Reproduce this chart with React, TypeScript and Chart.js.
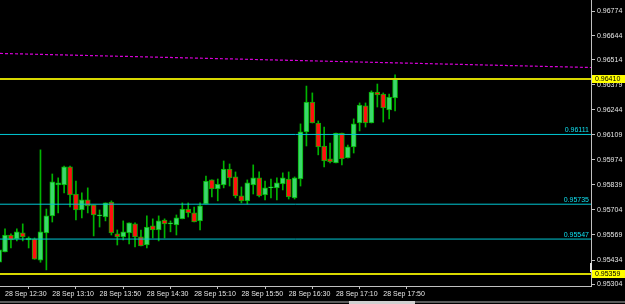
import React, { useEffect, useRef } from 'react';
import { Chart, registerables } from 'chart.js';

Chart.register(...registerables);

// ---- data ----
const timeLabels = [
  '28 Sep 12:30', '28 Sep 13:10', '28 Sep 13:50', '28 Sep 14:30', '28 Sep 15:10',
  '28 Sep 15:50', '28 Sep 16:30', '28 Sep 17:10', '28 Sep 17:50',
];
const timeTickBars = [1, 9, 17, 25, 33, 41, 49, 57, 65];
const priceTicks = [
  0.96774, 0.96644, 0.96514, 0.96379, 0.96244, 0.96109,
  0.95974, 0.95839, 0.95704, 0.95569, 0.95434, 0.95304,
];

const opens = [
  0.95422, 0.95478, 0.95569, 0.95548, 0.95580, 0.95542, 0.95548, 0.95433, 0.95580, 0.95672,
  0.95839, 0.95839, 0.95936, 0.95790, 0.95704, 0.95758, 0.95731, 0.95672, 0.95666, 0.95747,
  0.95575, 0.95559, 0.95580, 0.95629, 0.95559, 0.95515, 0.95618, 0.95596, 0.95650, 0.95629,
  0.95623, 0.95656, 0.95709, 0.95688, 0.95645, 0.95736, 0.95866, 0.95817, 0.95839, 0.95925,
  0.95882, 0.95780, 0.95753, 0.95839, 0.95877, 0.95785, 0.95823, 0.95823, 0.95844, 0.95871,
  0.95769, 0.95871, 0.96125, 0.96286, 0.96173, 0.96049, 0.95979, 0.95957, 0.96119, 0.95984,
  0.96044, 0.96173, 0.96265, 0.96173, 0.96340, 0.96329, 0.96243, 0.96308,
];
const highs = [
  0.95499, 0.95602, 0.95575, 0.95602, 0.95629, 0.95559, 0.95553, 0.96028, 0.95709, 0.95898,
  0.95877, 0.95941, 0.95941, 0.95860, 0.95796, 0.95823, 0.95731, 0.95704, 0.95742, 0.95753,
  0.95596, 0.95645, 0.95634, 0.95634, 0.95596, 0.95672, 0.95656, 0.95672, 0.95656, 0.95645,
  0.95677, 0.95742, 0.95742, 0.95720, 0.95742, 0.95887, 0.95866, 0.95871, 0.95968, 0.95952,
  0.95909, 0.95828, 0.95866, 0.95947, 0.95909, 0.95860, 0.95871, 0.95877, 0.95904, 0.95909,
  0.95882, 0.96168, 0.96372, 0.96335, 0.96184, 0.96151, 0.96065, 0.96119, 0.96119, 0.96054,
  0.96195, 0.96281, 0.96281, 0.96346, 0.96383, 0.96335, 0.96329, 0.96432,
];
const lows = [
  0.95411, 0.95478, 0.95499, 0.95537, 0.95537, 0.95499, 0.95438, 0.95422, 0.95381, 0.95639,
  0.95688, 0.95796, 0.95720, 0.95650, 0.95661, 0.95688, 0.95564, 0.95612, 0.95645, 0.95569,
  0.95515, 0.95542, 0.95521, 0.95505, 0.95510, 0.95499, 0.95553, 0.95537, 0.95553, 0.95586,
  0.95569, 0.95656, 0.95666, 0.95639, 0.95596, 0.95736, 0.95774, 0.95753, 0.95823, 0.95833,
  0.95769, 0.95742, 0.95736, 0.95790, 0.95774, 0.95758, 0.95769, 0.95758, 0.95812, 0.95763,
  0.95763, 0.95833, 0.96049, 0.96173, 0.96001, 0.95936, 0.95957, 0.95957, 0.95947, 0.95984,
  0.96011, 0.96130, 0.96151, 0.96173, 0.96259, 0.96178, 0.96195, 0.96238,
];
const closes = [
  0.95489, 0.95569, 0.95542, 0.95586, 0.95559, 0.95553, 0.95438, 0.95586, 0.95672, 0.95855,
  0.95850, 0.95936, 0.95785, 0.95704, 0.95758, 0.95726, 0.95677, 0.95677, 0.95742, 0.95580,
  0.95559, 0.95586, 0.95634, 0.95559, 0.95510, 0.95612, 0.95596, 0.95645, 0.95629, 0.95633,
  0.95661, 0.95709, 0.95688, 0.95639, 0.95726, 0.95860, 0.95817, 0.95844, 0.95925, 0.95877,
  0.95780, 0.95753, 0.95850, 0.95877, 0.95780, 0.95823, 0.95826, 0.95850, 0.95877, 0.95774,
  0.95877, 0.96125, 0.96286, 0.96173, 0.96044, 0.95968, 0.95963, 0.96119, 0.95979, 0.96044,
  0.96168, 0.96270, 0.96173, 0.96340, 0.96324, 0.96254, 0.96313, 0.96410,
];

const bidLevel = 0.96410;
const lowLevel = 0.95359;
const cyanLevels = [0.96111, 0.95735, 0.95547];
const trendStart = 0.96548;
const trendEnd = 0.96472;

// ---- styles ----
const BULL = '#3bd86c';
const BEAR = '#ff1010';
const OUTLINE = '#00b400';
const WICK = '#00b400';
const AXIS = '#c0c0c0';
const TXT = '#e6e6e6';
const YELLOW_LINE = '#d8d800';
const YELLOW_BOX = '#ffff00';
const CYAN = '#00c8d4';
const CYAN_TXT = '#10e0f0';
const MAGENTA = '#d800d8';
const FONT = 'Liberation Sans';

const X_MIN = 0.152;
const X_MAX = 100.152;

const overlay = {
  id: 'overlay',
  afterDraw(chart: any) {
    const ctx = chart.ctx;
    const y = chart.scales.y;
    const area = chart.chartArea;
    ctx.save();
    ctx.font = `7px "${FONT}"`;
    // cyan line labels
    ctx.fillStyle = CYAN_TXT;
    ctx.textAlign = 'right';
    ctx.textBaseline = 'bottom';
    cyanLevels.forEach((v) => {
      const py = y.getPixelForValue(v);
      ctx.fillText(v.toFixed(5), area.right - 2, py - 1);
    });
    // yellow price boxes
    [bidLevel, lowLevel].forEach((v) => {
      const py = y.getPixelForValue(v);
      ctx.fillStyle = YELLOW_BOX;
      ctx.fillRect(area.right + 1, Math.round(py) - 4, chart.width - area.right - 1, 8);
      ctx.fillStyle = '#000';
      ctx.textAlign = 'left';
      ctx.textBaseline = 'middle';
      ctx.fillText(v.toFixed(5), area.right + 4, Math.round(py) + 0.5);
    });
    // small marker on axis
    ctx.fillStyle = '#e0e0e0';
    ctx.fillRect(area.right - 1, 263, 2, 9);
    // bottom tab strip
    ctx.fillStyle = '#5a5a5a';
    ctx.fillRect(0, 301, chart.width, 2);
    ctx.fillStyle = '#d0d0d0';
    ctx.fillRect(349, 301, 66, 3);
    ctx.restore();
  },
};

export default function App() {
  const ref = useRef<HTMLCanvasElement>(null);

  useEffect(() => {
    const canvas = ref.current;
    if (!canvas) return;
    const bodyColors = opens.map((o, i) => (closes[i] >= o ? BULL : BEAR));
    const hline = (v: number, color: string, w: number) => ({
      type: 'line' as const,
      data: [{ x: X_MIN, y: v }, { x: X_MAX, y: v }],
      borderColor: color,
      borderWidth: w,
      pointRadius: 0,
      order: 0,
    });
    const chart = new Chart(canvas, {
      type: 'bar',
      data: {
        datasets: [
          {
            type: 'bar',
            data: lows.map((l, i) => ({ x: i, y: [l, highs[i]] })),
            backgroundColor: WICK,
            barThickness: 1,
            grouped: false,
            order: 3,
          } as any,
          {
            type: 'bar',
            data: opens.map((o, i) => ({ x: i, y: [o, closes[i]] })),
            backgroundColor: bodyColors,
            borderColor: OUTLINE,
            borderWidth: 1,
            borderSkipped: false,
            barThickness: 5,
            minBarLength: 1,
            grouped: false,
            order: 2,
          } as any,
          ...cyanLevels.map((v) => hline(v, CYAN, 1)),
          hline(bidLevel, YELLOW_LINE, 2),
          hline(lowLevel, YELLOW_LINE, 2),
          {
            type: 'line',
            data: [{ x: X_MIN, y: trendStart }, { x: X_MAX, y: trendEnd }],
            borderColor: MAGENTA,
            borderWidth: 1.2,
            borderDash: [3, 2],
            pointRadius: 0,
            order: 0,
          } as any,
        ] as any,
      },
      options: {
        responsive: false,
        animation: false,
        devicePixelRatio: 1,
        layout: { padding: 0 },
        plugins: { legend: { display: false }, tooltip: { enabled: false } },
        scales: {
          x: {
            type: 'linear',
            min: X_MIN,
            max: X_MAX,
            bounds: 'data',
            offset: false,
            afterBuildTicks: (s: any) => {
              s.ticks = timeTickBars.map((v) => ({ value: v }));
            },
            afterFit: (s: any) => {
              s.height = 18;
              s.paddingLeft = 0;
              s.paddingRight = 0;
            },
            ticks: {
              autoSkip: false,
              maxRotation: 0,
              minRotation: 0,
              align: 'start',
              padding: 1,
              color: TXT,
              font: { family: FONT, size: 7 },
              callback: (_v: any, i: number) => timeLabels[i],
            },
            grid: { drawOnChartArea: false, drawTicks: true, tickLength: 3, color: AXIS },
            border: { color: AXIS, width: 1 },
          },
          y: {
            type: 'linear',
            position: 'right',
            min: 0.95294,
            max: 0.96836,
            bounds: 'data',
            afterBuildTicks: (s: any) => {
              s.ticks = priceTicks.map((v) => ({ value: v }));
            },
            afterFit: (s: any) => {
              s.width = 34;
              s.paddingTop = 0;
              s.paddingBottom = 0;
            },
            ticks: {
              autoSkip: false,
              padding: 2,
              color: TXT,
              font: { family: FONT, size: 7 },
              callback: (v: any) => Number(v).toFixed(5),
            },
            grid: { drawOnChartArea: false, drawTicks: true, tickLength: 4, color: AXIS },
            border: { color: AXIS, width: 1 },
          },
        },
      } as any,
      plugins: [overlay],
    });
    return () => chart.destroy();
  }, []);

  return (
    <div style={{ position: 'fixed', left: 0, top: 0, width: 625, height: 304, background: '#000' }}>
      <canvas ref={ref} width={625} height={304} style={{ width: 625, height: 304, display: 'block' }} />
    </div>
  );
}
